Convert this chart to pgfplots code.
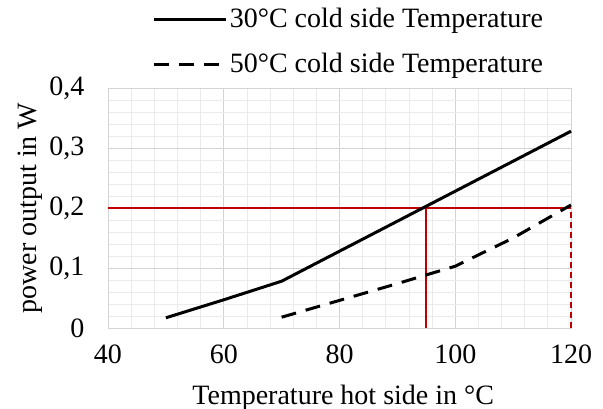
\documentclass[border=0pt]{standalone}
\usepackage{pgfplots}
\pgfplotsset{compat=1.18}
\usepackage{fontspec}
\setmainfont{Liberation Serif}
\definecolor{myred}{RGB}{192,0,0}
\begin{document}
\fontsize{28bp}{33bp}\selectfont
\begin{tikzpicture}
\begin{axis}[
  scale only axis, width=463bp, height=240bp,
  xmin=40, xmax=120, ymin=0, ymax=0.4,
  xtick={40,60,80,100,120}, xticklabels={40,60,80,100,120},
  ytick={0,0.1,0.2,0.3,0.4}, yticklabels={0,{0,1},{0,2},{0,3},{0,4}},
  minor x tick num=4, minor y tick num=4,
  grid=both,
  major grid style={color=black!17, line width=0.8bp},
  minor grid style={color=black!8, line width=0.8bp},
  axis line style={black!17, line width=0.8bp},
  major tick length=0pt, minor tick length=0pt,
  tick label style={font=\fontsize{28bp}{33bp}\selectfont},
  xticklabel style={yshift=-7bp},
  yticklabel style={xshift=-14bp},
  label style={font=\fontsize{28bp}{33bp}\selectfont},
  xlabel={Temperature hot side in °C},
  ylabel={power output in W},
  xlabel style={at={(axis description cs:0.508,-0.29)}, anchor=center},
  ylabel style={at={(axis description cs:-0.168,0.5)}, anchor=center},
  legend style={draw=none, fill=none, at={(0.09,1.35)}, anchor=north west,
    font=\fontsize{28bp}{33bp}\selectfont, row sep=17bp, cells={anchor=west}},
  legend image code/.code={\draw[#1] (0bp,0bp) -- (72bp,0bp);},
  clip=false,
]
\addplot[myred, line width=2bp, forget plot] coordinates {(40,0.2) (120,0.2)};
\addplot[myred, line width=2bp, forget plot] coordinates {(95,0) (95,0.2)};
\addplot[myred, line width=2bp, dash pattern=on 6bp off 4bp, forget plot] coordinates {(120,0) (120,0.2)};
\addplot[black, line width=3bp] coordinates {
  (50,0.017) (60,0.047) (70,0.078) (80,0.128) (90,0.178) (100,0.228) (110,0.278) (120,0.328)};
\addlegendentry{30°C cold side Temperature}
\addplot[black, line width=3bp, dash pattern=on 15bp off 10bp] coordinates {
  (70,0.018) (80,0.046) (90,0.074) (100,0.103) (110,0.15) (120,0.205)};
\addlegendentry{50°C cold side Temperature}
\end{axis}
\pgfresetboundingbox
\path[use as bounding box] (-108bp,-81bp) rectangle (495bp,328bp);
\end{tikzpicture}
\end{document}
